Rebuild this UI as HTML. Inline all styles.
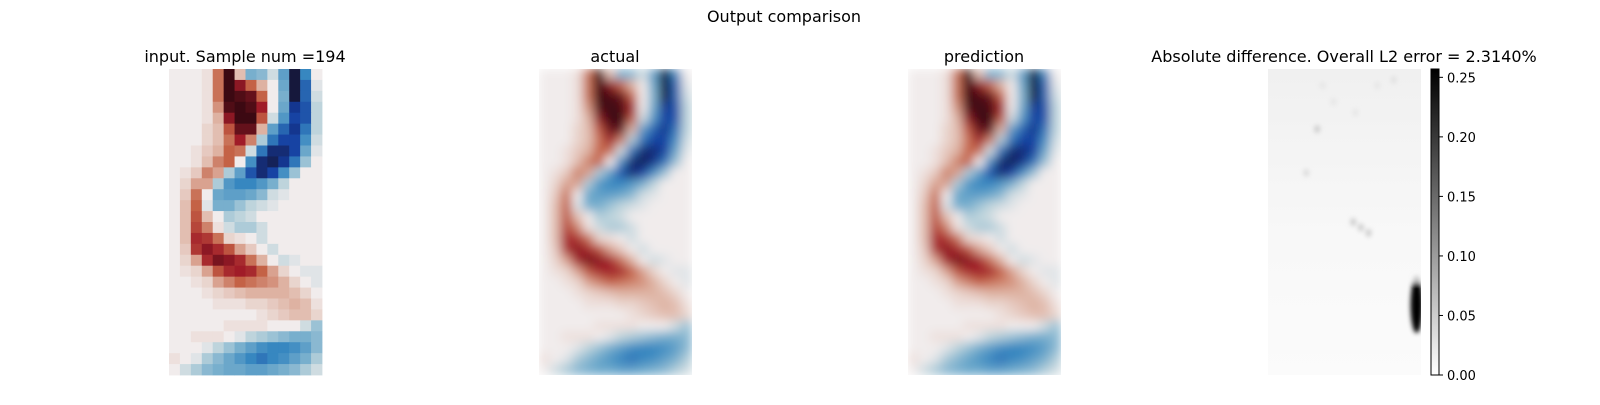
<!DOCTYPE html>
<html><head><meta charset="utf-8">
<style>
html,body{margin:0;padding:0;background:#fff;}
svg text{font-family:"DejaVu Sans","Liberation Sans",sans-serif;fill:#000;}
</style></head>
<body>
<svg id="fig" width="1600" height="400" viewBox="0 0 1600 400" xmlns="http://www.w3.org/2000/svg">
<defs>
  <filter id="smooth" x="-5%" y="-5%" width="110%" height="110%"><feGaussianBlur stdDeviation="5" edgeMode="duplicate"/></filter>
  <filter id="soft" x="-50%" y="-50%" width="200%" height="200%"><feGaussianBlur stdDeviation="2.5"/></filter>
  <clipPath id="clipA"><rect x="539" y="69" width="153" height="306"/></clipPath>
  <clipPath id="clipP"><rect x="908" y="69" width="153" height="306"/></clipPath>
  <clipPath id="clipD"><rect x="1268" y="69" width="153" height="306"/></clipPath>
  <linearGradient id="cbar" x1="0" y1="1" x2="0" y2="0">
    <stop offset="0" stop-color="#ffffff"/><stop offset="1" stop-color="#000000"/>
  </linearGradient>
  <linearGradient id="diffbg" x1="0" y1="0" x2="0" y2="1">
    <stop offset="0" stop-color="#f0f0f0"/><stop offset="0.55" stop-color="#f8f8f8"/><stop offset="1" stop-color="#fbfbfb"/>
  </linearGradient>
</defs>
<text x="784" y="22" font-size="16" text-anchor="middle">Output comparison</text>
<text x="245" y="62" font-size="16" text-anchor="middle">input. Sample num =194</text>
<text x="615" y="62" font-size="16" text-anchor="middle">actual</text>
<text x="984" y="62" font-size="16" text-anchor="middle">prediction</text>
<text x="1344" y="62" font-size="16" text-anchor="middle">Absolute difference. Overall L2 error = 2.3140%</text>
<g id="gInput"></g>
<g clip-path="url(#clipA)"><g id="gActual" filter="url(#smooth)"></g></g>
<g clip-path="url(#clipP)"><g id="gPred" filter="url(#smooth)"></g></g>
<g clip-path="url(#clipD)">
  <rect x="1268" y="69" width="153" height="306" fill="url(#diffbg)"/>
  <g id="gDiff" filter="url(#soft)"></g>
</g>
<g id="gCbar">
  <rect x="1431" y="69" width="8" height="306" fill="url(#cbar)" stroke="#000" stroke-width="1"/>
</g>
</svg>
<script>
// input vorticity field, rows top->bottom, values in [-1,1]
const fieldRows = [
[0,0,0,.05,.45,1,.2,-.35,-.3,-.1,-.45,-1,-.6,0],
[0,0,0,.05,.45,1,.8,.5,.25,0,-.4,-1,-.7,-.05],
[0,0,0,.05,.45,1,.95,.9,.5,0,-.35,-1,-.7,-.1],
[0,0,0,.05,.35,.95,1,.95,.75,0,-.4,-.85,-.75,-.15],
[0,0,0,.05,.25,.8,1,1,.55,-.1,-.5,-.8,-.75,-.15],
[0,0,0,.1,.2,.55,.9,.9,.25,-.45,-.7,-.85,-.65,-.15],
[0,0,0,.1,.2,.45,.75,.4,-.2,-.65,-.8,-.8,-.55,-.1],
[0,0,.05,.15,.25,.5,.45,-.1,-.65,-.9,-.9,-.8,-.4,-.05],
[0,0,.05,.2,.4,.5,0,-.55,-.9,-.95,-.85,-.65,-.25,0],
[0,.05,.15,.4,.3,-.2,-.45,-.75,-.9,-.8,-.55,-.25,0,0],
[0,.1,.3,.3,-.2,-.5,-.6,-.6,-.5,-.35,-.15,0,0,0],
[0,.15,.45,0,-.4,-.45,-.45,-.4,-.3,-.1,-.05,0,0,0],
[0,.2,.5,-.05,-.35,-.35,-.25,-.15,-.1,-.05,0,0,0,0],
[0,.2,.55,.2,0,-.2,-.15,-.1,0,0,0,0,0,0],
[0,.2,.6,.4,.05,-.1,-.2,-.2,-.1,0,0,0,0,0],
[0,.2,.7,.65,.45,.1,.05,0,-.1,0,0,0,0,0],
[0,.15,.65,.8,.7,.55,.3,.15,0,-.1,0,0,0,0],
[0,.1,.3,.7,.85,.8,.7,.45,.25,0,-.1,-.05,0,0],
[0,.05,.1,.3,.55,.7,.75,.7,.5,.3,.1,0,-.05,-.05],
[0,0,.05,.1,.3,.4,.5,.45,.4,.35,.25,.1,0,-.05],
[0,0,0,.05,.1,.15,.2,.25,.25,.25,.25,.2,.1,0],
[0,0,0,0,.05,.05,.05,.1,.1,.15,.2,.25,.2,.05],
[0,0,0,0,0,0,0,0,.05,.1,.15,.2,.2,.1],
[0,0,0,0,0,.05,.05,.05,.05,0,0,0,-.1,-.25],
[0,0,.05,.05,.05,0,-.05,-.15,-.2,-.25,-.3,-.35,-.35,-.3],
[0,0,0,-.05,-.15,-.25,-.35,-.45,-.55,-.6,-.6,-.55,-.45,-.3],
[.05,0,-.05,-.2,-.3,-.4,-.5,-.6,-.65,-.6,-.55,-.45,-.35,-.2],
[0,-.1,-.2,-.3,-.35,-.4,-.4,-.45,-.45,-.4,-.35,-.3,-.2,-.1]
];
// absolute-difference hot spots: [col, row, value] in field grid units
const diffCols = [13.6,13.6,4.5,7.8,8.5,9.2,3.5,5,10,11.5,8,6];
const diffRows = [21.6,19.3,5.5,14,14.5,15,9.5,1.5,1.5,1,4,3];
const diffVals = [0.26,0.06,0.05,0.05,0.05,0.05,0.035,0.025,0.025,0.03,0.025,0.025];
const cbarTicks = [0, 0.05, 0.10, 0.15, 0.20, 0.25];
const cbarMax = 0.257;

const NS = "http://www.w3.org/2000/svg";
const nCols = fieldRows[0].length, nRows = fieldRows.length;
const stops = [[-1,[22,24,60]],[-0.82,[20,60,160]],[-0.6,[55,135,192]],[-0.35,[120,175,205]],[-0.15,[190,212,220]],[0,[241,236,236]],[0.25,[222,178,162]],[0.5,[196,98,70]],[0.75,[160,28,40]],[1,[60,9,18]]];
function cmap(v){
  v=Math.max(-1,Math.min(1,v));
  for(let i=0;i<stops.length-1;i++){
    const a=stops[i],b=stops[i+1];
    if(v<=b[0]){const t=(v-a[0])/(b[0]-a[0]);
      const c=a[1].map((x,k)=>Math.round(x+(b[1][k]-x)*t));
      return `rgb(${c[0]},${c[1]},${c[2]})`;}
  }
  return "rgb(60,9,18)";
}
function drawField(g,x0,y0,w,h,name){
  const cw=w/nCols, ch=h/nRows;
  for(let r=0;r<nRows;r++)for(let c=0;c<nCols;c++){
    const el=document.createElementNS(NS,"rect");
    el.setAttribute("x",x0+c*cw);el.setAttribute("y",y0+r*ch);
    el.setAttribute("width",cw+0.4);el.setAttribute("height",ch+0.4);
    el.setAttribute("fill",cmap(fieldRows[r][c]));
    
    
    g.appendChild(el);
  }
}
drawField(document.getElementById("gInput"),169,69,153,306,"input-cell");
drawField(document.getElementById("gActual"),539,69,153,306,"actual-cell");
drawField(document.getElementById("gPred"),908,69,153,306,"prediction-cell");

const gd=document.getElementById("gDiff");
const dcw=153/nCols, dch=306/nRows;
for(let i=0;i<diffVals.length;i++){
  const el=document.createElementNS(NS,"ellipse");
  el.setAttribute("cx",1268+diffCols[i]*dcw);
  el.setAttribute("cy",69+diffRows[i]*dch);
  const big=diffVals[i]>0.2;
  el.setAttribute("rx",big?6:3);
  el.setAttribute("ry",big?28:4);
  const g=Math.round(255*(1-Math.min(1,diffVals[i]/cbarMax)));
  el.setAttribute("fill",`rgb(${g},${g},${g})`);
  
  
  gd.appendChild(el);
}
const gc=document.getElementById("gCbar");
const yOf=v=>375-v/cbarMax*306;
cbarTicks.forEach(t=>{
  const ln=document.createElementNS(NS,"line");
  ln.setAttribute("x1",1439);ln.setAttribute("x2",1443);
  ln.setAttribute("y1",yOf(t));ln.setAttribute("y2",yOf(t));
  ln.setAttribute("stroke","#000");
  
  
  gc.appendChild(ln);
  const tx=document.createElementNS(NS,"text");
  tx.setAttribute("x",1447);tx.setAttribute("y",yOf(t)+5);
  tx.setAttribute("font-size","13");
  tx.textContent=t.toFixed(2);
  
  
  gc.appendChild(tx);
});
</script>
</body></html>
